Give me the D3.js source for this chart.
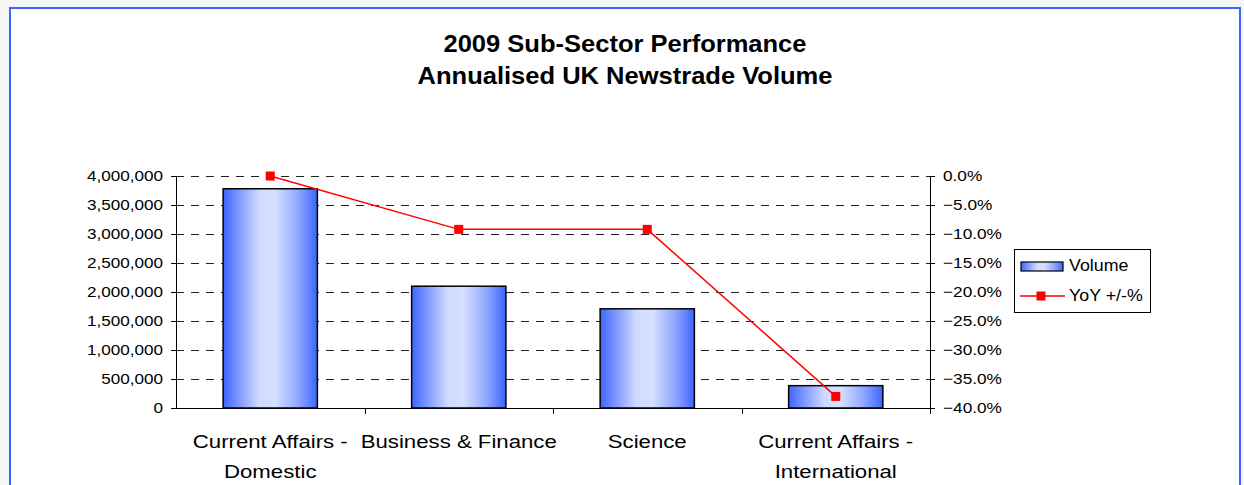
<!DOCTYPE html>
<html>
<head>
<meta charset="utf-8">
<script src="https://cdn.jsdelivr.net/npm/d3@7"></script>
<style>
  html, body { margin: 0; padding: 0; background: #f6f6f9; }
  svg { display: block; }
  text { font-family: "Liberation Sans", Arial, sans-serif; fill: #000; }
</style>
</head>
<body>
<svg id="chart" width="1244" height="485"></svg>
<script>
// ---- data ----
const titleLines = ["2009 Sub-Sector Performance", "Annualised UK Newstrade Volume"];
const categories = ["Current Affairs - Domestic", "Business & Finance", "Science", "Current Affairs - International"];
const volume = [3780000, 2100000, 1710000, 385000];
const yoy = [0.0, -9.2, -9.2, -38.0];           // percent
const leftTicks = [0, 500000, 1000000, 1500000, 2000000, 2500000, 3000000, 3500000, 4000000];
const rightTicks = [0, -5, -10, -15, -20, -25, -30, -35, -40];
const seriesNames = ["Volume", "YoY +/-%"];

// ---- layout ----
const plot = { left: 176, right: 930, top: 176, bottom: 408 };
const svg = d3.select("#chart");

// frame
svg.append("rect").attr("x", 10).attr("y", 8).attr("width", 1230).attr("height", 520)
  .attr("fill", "#fff").attr("stroke", "#3a66ff").attr("stroke-width", 2);

// gradient
const defs = svg.append("defs");
const grad = defs.append("linearGradient").attr("id", "barGrad")
  .attr("x1", "0%").attr("x2", "100%").attr("y1", "0%").attr("y2", "0%");
[[0, "#3d64ff"], [0.15, "#7893ff"], [0.38, "#cfdaff"], [0.55, "#d6e0ff"], [0.8, "#8ea6ff"], [1, "#3d64ff"]]
  .forEach(([o, c]) => grad.append("stop").attr("offset", o).attr("stop-color", c));

// scales
const x = d3.scaleBand().domain(categories).range([plot.left, plot.right]).paddingInner(0.5).paddingOuter(0.25);
const xOuter = d3.scaleBand().domain(categories).range([plot.left, plot.right]).padding(0);
const y = d3.scaleLinear().domain([0, 4000000]).range([plot.bottom, plot.top]);
const y2 = d3.scaleLinear().domain([-40, 0]).range([plot.bottom, plot.top]);

// helper: horizontally stretched text
function stretchText(sel, sx) {
  sel.each(function () {
    const t = d3.select(this);
    const xv = +t.attr("x") || 0;
    t.attr("x", xv / sx).attr("transform", `scale(${sx},1)`);
  });
}

// title
const tSx = 1.11;
svg.append("g").selectAll("text").data(titleLines).join("text")
  .attr("x", 625 / tSx).attr("y", (d, i) => 52 + i * 32)
  .attr("transform", `scale(${tSx},1)`)
  .attr("text-anchor", "middle").attr("font-weight", "bold").attr("font-size", 23)
  .text(d => d);

// gridlines
svg.append("g").selectAll("line").data(leftTicks.filter(d => d !== 0)).join("line")
  .attr("x1", plot.left).attr("x2", plot.right)
  .attr("y1", d => Math.round(y(d)) + 0.5).attr("y2", d => Math.round(y(d)) + 0.5)
  .attr("stroke", "#222").attr("stroke-width", 1).attr("stroke-dasharray", "8,7");

// bars
svg.append("g").selectAll("rect").data(categories).join("rect")
  .attr("x", d => x(d)).attr("width", x.bandwidth())
  .attr("y", (d, i) => y(volume[i])).attr("height", (d, i) => y(0) - y(volume[i]))
  .attr("fill", "url(#barGrad)").attr("stroke", "#000").attr("stroke-width", 1.5);

// left axis
const gL = svg.append("g").attr("transform", `translate(${plot.left},0)`)
  .call(d3.axisLeft(y).tickValues(leftTicks).tickSize(5).tickPadding(8).tickFormat(d3.format(",")));
gL.select(".domain").attr("stroke", "#000");
gL.selectAll(".tick line").attr("stroke", "#000");
gL.selectAll("text").attr("font-size", 14.5).attr("font-family", "Liberation Sans, Arial, sans-serif").attr("fill", "#000");
stretchText(gL.selectAll("text"), 1.18);

// right axis
const gR = svg.append("g").attr("transform", `translate(${plot.right},0)`)
  .call(d3.axisRight(y2).tickValues(rightTicks).tickSize(5).tickPadding(8).tickFormat(d => d3.format(".1f")(d) + "%"));
gR.select(".domain").attr("stroke", "#000");
gR.selectAll(".tick line").attr("stroke", "#000");
gR.selectAll("text").attr("font-size", 15).attr("font-family", "Liberation Sans, Arial, sans-serif").attr("fill", "#000");
stretchText(gR.selectAll("text"), 1.15);

// bottom axis
const gB = svg.append("g").attr("transform", `translate(0,${plot.bottom})`);
gB.append("line").attr("x1", plot.left).attr("x2", plot.right).attr("y1", 0.5).attr("y2", 0.5).attr("stroke", "#000");
const bounds = categories.slice(1).map(c => xOuter(c)).concat([plot.right]);
gB.selectAll("line.tk").data(bounds).join("line").attr("class", "tk")
  .attr("x1", d => Math.round(d) + 0.5).attr("x2", d => Math.round(d) + 0.5)
  .attr("y1", 0).attr("y2", 6).attr("stroke", "#000");

// category labels
function splitLabel(s) {
  const k = s.indexOf(" - ");
  return k >= 0 ? [s.slice(0, k + 2), s.slice(k + 3)] : [s];
}
const catSx = 1.2;
const catG = svg.append("g");
categories.forEach(c => {
  const cx = x(c) + x.bandwidth() / 2;
  splitLabel(c).forEach((line, j) => {
    catG.append("text").attr("x", cx / catSx).attr("y", 448 + j * 30)
      .attr("transform", `scale(${catSx},1)`)
      .attr("text-anchor", "middle").attr("font-size", 18.5).text(line);
  });
});

// line series
const pts = categories.map((c, i) => [x(c) + x.bandwidth() / 2, y2(yoy[i])]);
svg.append("path").attr("d", d3.line()(pts)).attr("fill", "none").attr("stroke", "#ff0000").attr("stroke-width", 1.5);
svg.append("g").selectAll("rect").data(pts).join("rect")
  .attr("x", d => d[0] - 4.5).attr("y", d => d[1] - 4.5).attr("width", 9).attr("height", 9)
  .attr("fill", "#ff0000");

// legend
const lg = svg.append("g");
lg.append("rect").attr("x", 1014.5).attr("y", 249.5).attr("width", 136).attr("height", 63)
  .attr("fill", "#fff").attr("stroke", "#000");
lg.append("rect").attr("x", 1021).attr("y", 262).attr("width", 42).attr("height", 9)
  .attr("fill", "url(#barGrad)").attr("stroke", "#000").attr("stroke-width", 1.2);
lg.append("line").attr("x1", 1020).attr("x2", 1065).attr("y1", 296).attr("y2", 296)
  .attr("stroke", "#ff0000").attr("stroke-width", 1.5);
lg.append("rect").attr("x", 1036.5).attr("y", 291.5).attr("width", 9).attr("height", 9).attr("fill", "#ff0000");
const legSx = 1.08;
lg.selectAll("text").data(seriesNames).join("text")
  .attr("x", 1069 / legSx).attr("y", (d, i) => 271 + i * 30)
  .attr("transform", `scale(${legSx},1)`)
  .attr("font-size", 16.5).text(d => d);
</script>
</body>
</html>
